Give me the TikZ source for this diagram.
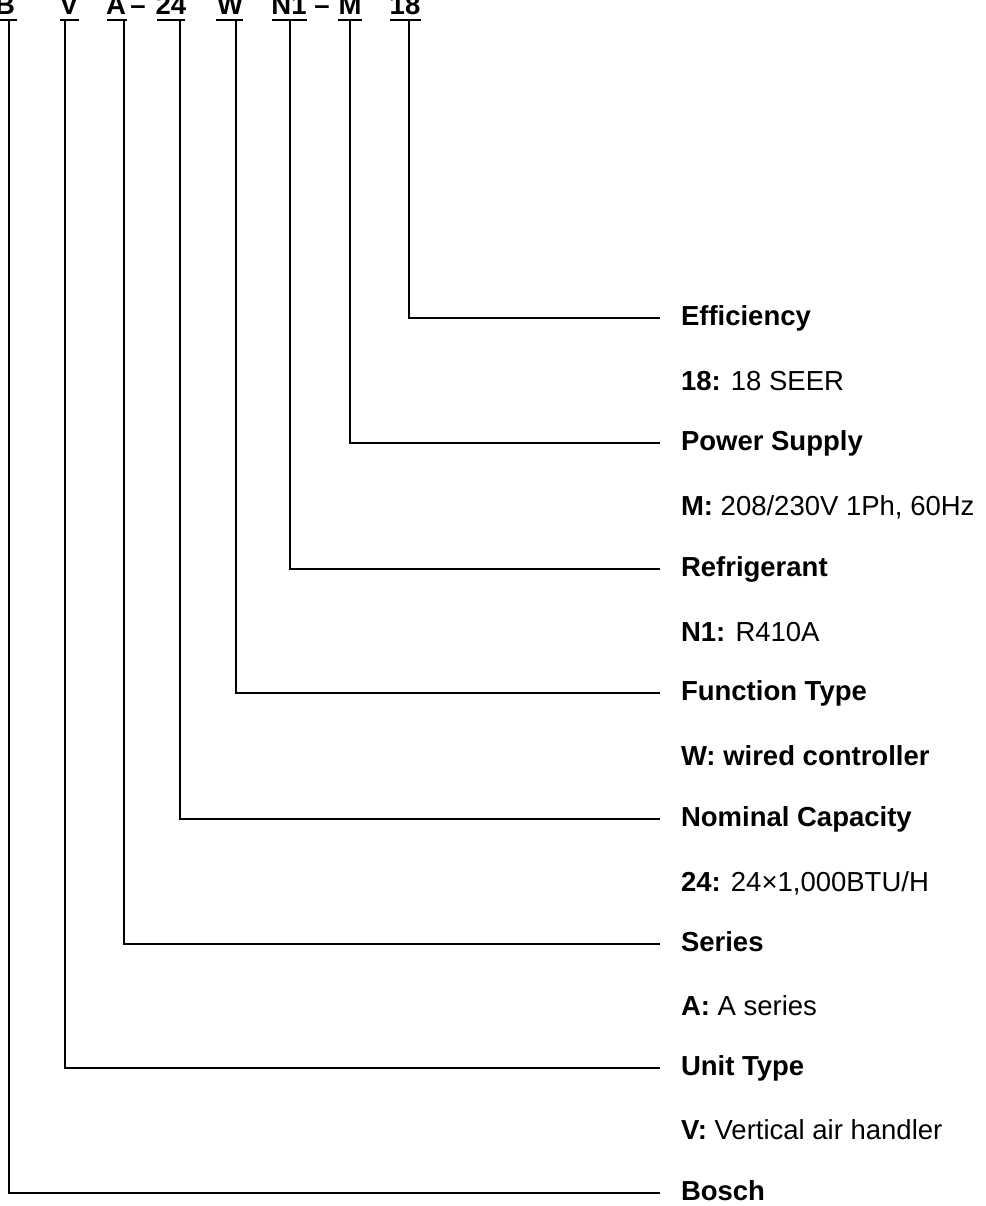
\documentclass[tikz,border=0pt]{standalone}
\usepackage{fontspec}
\setmainfont{Liberation Sans}
\usepackage{tikz}

\begin{document}
\begin{tikzpicture}[x=1pt,y=-1pt,
  every node/.style={font=\fontsize{27.5}{33}\selectfont, outer sep=0pt},
  code/.style={anchor=base, inner sep=0pt, font=\fontsize{27.5}{33}\selectfont\bfseries},
  item/.style={anchor=west, inner xsep=21pt, inner ysep=0pt, text height=20pt, text depth=6pt},
  lead/.style={line width=2.3pt},
  bar/.style={line width=2.7pt}]
\useasboundingbox (0,0) rectangle (985,1206);

% model code along the top
\node[code] (b) at (5,15) {B};
\node[code] (v) at (69,15) {V};
\node[code] (a) at (116,15) {A};
\node[code] (d1) at (138,15) {--};
\node[code] (n24) at (171,15) {24};
\node[code] (w) at (230,15) {W};
\node[code] (n1) at (289,15) {N1};
\node[code] (d2) at (322,15) {--};
\node[code] (m) at (350,15) {M};
\node[code] (e18) at (405,15) {18};

\draw[bar] (-5,20) -- (17,20);
\draw[bar] (60,20) -- (79,20);
\draw[bar] (107,20) -- (127,20);
\draw[bar] (157,20) -- (185,20);
\draw[bar] (216,20) -- (243,20);
\draw[bar] (272,20) -- (307,20);
\draw[bar] (338,20) -- (362,20);
\draw[bar] (390,20) -- (421,20);

\coordinate (tb) at (9,20);
\coordinate (tv) at (65,20);
\coordinate (ta) at (124,20);
\coordinate (t24) at (180,20);
\coordinate (tw) at (236,20);
\coordinate (tn1) at (290,20);
\coordinate (tm) at (350,20);
\coordinate (t18) at (409,20);

% labels on the right
\node[item] (eff) at (660,318) {\textbf{Efficiency}};
\node[item] (effd) at (660,383) {\textbf{18:} 18 SEER};
\node[item] (pwr) at (660,443) {\textbf{Power Supply}};
\node[item] (pwrd) at (660,508) {\textbf{M:} 208/230V 1Ph, 60Hz};
\node[item] (ref) at (660,569) {\textbf{Refrigerant}};
\node[item] (refd) at (660,634) {\textbf{N1:} R410A};
\node[item] (fun) at (660,693) {\textbf{Function Type}};
\node[item] (fund) at (660,758) {\textbf{W: wired controller}};
\node[item] (cap) at (660,819) {\textbf{Nominal Capacity}};
\node[item] (capd) at (660,884) {\textbf{24:} 24×1,000BTU/H};
\node[item] (ser) at (660,944) {\textbf{Series}};
\node[item] (serd) at (660,1008) {\textbf{A:} A series};
\node[item] (uni) at (660,1068) {\textbf{Unit Type}};
\node[item] (unid) at (660,1132) {\textbf{V:} Vertical air handler};
\node[item] (bos) at (660,1193) {\textbf{Bosch}};

% leader lines
\draw[lead] (t18) |- (eff.west);
\draw[lead] (tm) |- (pwr.west);
\draw[lead] (tn1) |- (ref.west);
\draw[lead] (tw) |- (fun.west);
\draw[lead] (t24) |- (cap.west);
\draw[lead] (ta) |- (ser.west);
\draw[lead] (tv) |- (uni.west);
\draw[lead] (tb) |- (bos.west);
\end{tikzpicture}
\end{document}
